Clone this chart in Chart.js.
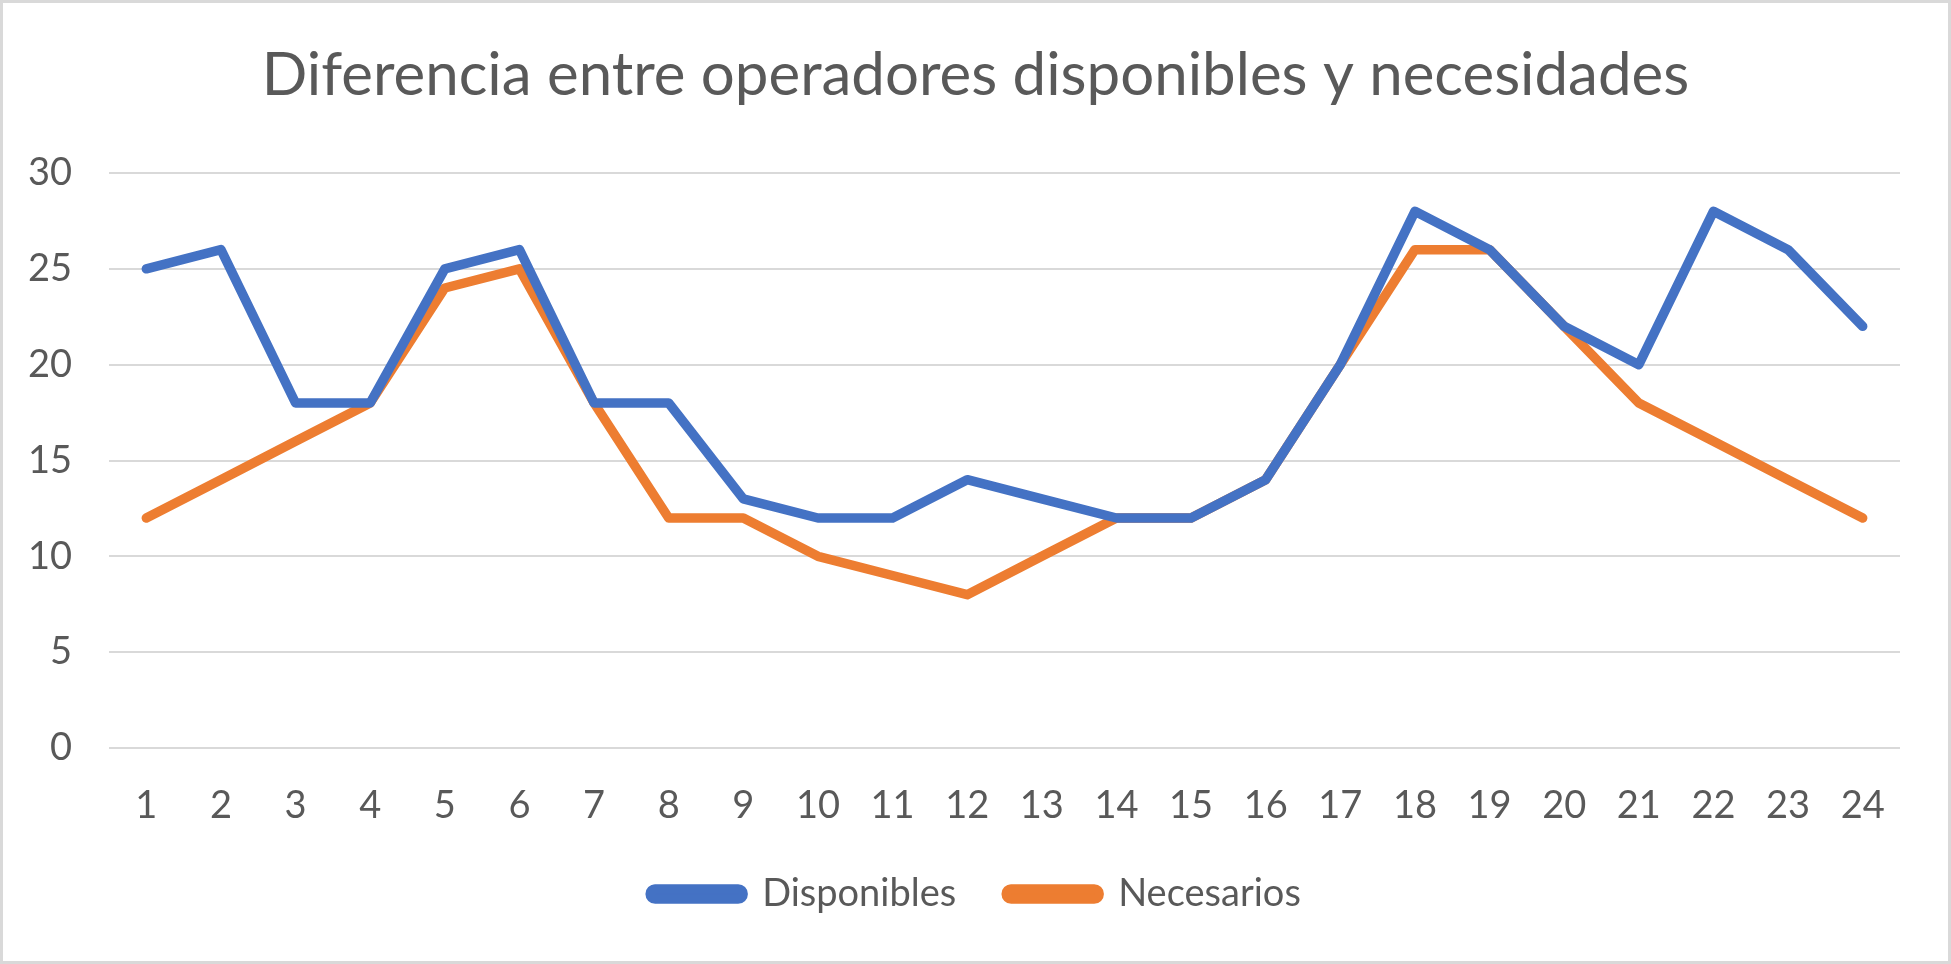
<!DOCTYPE html>
<html>
<head>
<meta charset="utf-8">
<script src="https://cdn.jsdelivr.net/npm/chart.js@4.4.1/dist/chart.umd.min.js"></script>
<style>
  html, body { margin: 0; padding: 0; background: #fff; }
  #wrap { width: 1951px; height: 964px; }
</style>
</head>
<body>
<div id="wrap"><canvas id="chart" width="1951" height="964"></canvas></div>
<script>
// data
var hours = ["1","2","3","4","5","6","7","8","9","10","11","12","13","14","15","16","17","18","19","20","21","22","23","24"];
var disponibles = [25, 26, 18, 18, 25, 26, 18, 18, 13, 12, 12, 14, 13, 12, 12, 14, 20, 28, 26, 22, 20, 28, 26, 22];
var necesarios  = [12, 14, 16, 18, 24, 25, 18, 12, 12, 10, 9, 8, 10, 12, 12, 14, 20, 26, 26, 22, 18, 16, 14, 12];
var yTicks = [0, 5, 10, 15, 20, 25, 30];

var BLUE = "#4472C4";
var ORANGE = "#ED7D31";
var TEXT = "#595959";
var GRID = "#D9D9D9";

// outer frame like the Excel chart area
var frame = {
    id: "frame",
    afterDraw: function(chart) {
        var ctx = chart.ctx;
        ctx.save();
        ctx.strokeStyle = "#D9D9D9";
        ctx.lineWidth = 3;
        ctx.strokeRect(1.5, 1.5, chart.width - 3, chart.height - 3);
        ctx.restore();
    }
};

new Chart(document.getElementById("chart"), {
    type: "line",
    data: {
        labels: hours,
        datasets: [
            { label: "Disponibles", data: disponibles, borderColor: BLUE, backgroundColor: BLUE },
            { label: "Necesarios", data: necesarios, borderColor: ORANGE, backgroundColor: ORANGE }
        ]
    },
    options: {
        responsive: false,
        animation: false,
        devicePixelRatio: 1,
        layout: { padding: { left: 0, right: 0, top: 0, bottom: 41 } },
        elements: {
            line: { borderWidth: 9.5, tension: 0, borderCapStyle: "round", borderJoinStyle: "round" },
            point: { radius: 0, hoverRadius: 0 }
        },
        plugins: {
            title: {
                display: true,
                text: "Diferencia entre operadores disponibles y necesidades",
                color: TEXT,
                font: { family: "Lato", size: 60, weight: "400" },
                padding: { top: 40, bottom: 61 }
            },
            legend: {
                position: "bottom",
                labels: {
                    color: TEXT,
                    font: { family: "Lato", size: 38 },
                    boxWidth: 93,
                    boxHeight: 10,
                    useBorderRadius: true,
                    borderRadius: 5,
                    padding: 50
                }
            },
            tooltip: { enabled: false }
        },
        scales: {
            x: {
                offset: true,
                grid: { display: false, drawTicks: false },
                border: { display: false },
                ticks: { color: TEXT, font: { family: "Lato", size: 38 }, padding: 35, maxRotation: 0 },
                afterFit: function(scale) { scale.height = 77; }
            },
            y: {
                min: 0,
                max: 30,
                afterBuildTicks: function(scale) {
                    scale.ticks = yTicks.map(function(v) { return { value: v }; });
                },
                grid: { color: GRID, lineWidth: 2, drawTicks: false },
                border: { display: false },
                ticks: { color: TEXT, font: { family: "Lato", size: 38 }, padding: 37 },
                afterFit: function(scale) { scale.width = 109; }
            },
            // empty right-hand strip so the plot ends where the reference does
            yRight: {
                position: "right",
                grid: { display: false, drawTicks: false },
                border: { display: false },
                ticks: { display: false },
                afterFit: function(scale) { scale.width = 51; }
            }
        }
    },
    plugins: [frame]
});
</script>
</body>
</html>
